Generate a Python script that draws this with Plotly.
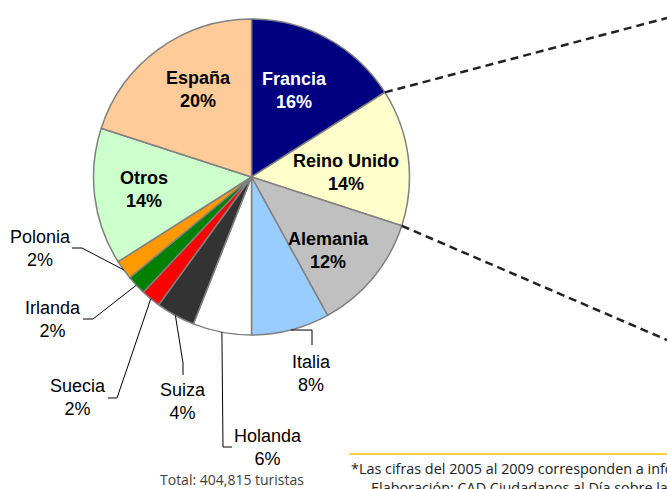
import math
import plotly.graph_objects as go

# ---- data ----
countries = ["Francia", "Reino Unido", "Alemania", "Italia", "Holanda", "Suiza",
             "Suecia", "Irlanda", "Polonia", "Otros", "España"]
shares = [16, 14, 12, 8, 6, 4, 2, 2, 2, 14, 20]
colors = ["#000080", "#FFFFCC", "#C0C0C0", "#99CCFF", "#FFFFFF", "#333333",
          "#FF0000", "#008000", "#FF9900", "#CCFFCC", "#FFCC99"]
total_text = "Total: 404,815 turistas"
note1 = "*Las cifras del 2005 al 2009 corresponden a información preliminar"
note2 = "Elaboración: CAD Ciudadanos al Día sobre la base de información oficial"

W, H = 667, 489
CX, CY, R = 251.5, 177.0, 158.0   # pie centre / radius in px (layout)

def px(x):
    return x / W

def py(y):
    return 1 - y / H

fig = go.Figure(go.Pie(
    labels=countries, values=shares, sort=False, direction="clockwise", rotation=0,
    marker=dict(colors=colors, line=dict(color="#808080", width=1.5)),
    textinfo="none", hoverinfo="label+percent", showlegend=False,
    domain=dict(x=[px(CX - R), px(CX + R)], y=[py(CY + R), py(CY - R)]),
))

tot = sum(shares)
def point_at(frac, r=R):
    a = 2 * math.pi * frac
    return CX + r * math.sin(a), CY - r * math.cos(a)

cum = []
c = 0
for v in shares:
    cum.append(c)
    c += v

shapes = []
annotations = []

# inside labels (bold)
inside = {
    "España": (199, 89.5, "#000000"),
    "Francia": (294, 90.5, "#FFFFFF"),
    "Reino Unido": (346, 172, "#000000"),
    "Alemania": (328, 251, "#000000"),
    "Otros": (144, 189, "#000000"),
}
# outside labels: (label centre x, y, end x, end y, elbow x, elbow y)
outside = {
    "Polonia": (40, 248, 72, 248, 82, 248),
    "Irlanda": (53, 319.5, 83, 319, 93, 319),
    "Suecia": (77.5, 397, 108, 398, 117, 398),
    "Suiza": (183, 401.5, 183, 375, 183, 363),
    "Holanda": (268, 447, 232, 447, 223, 447),
    "Italia": (311.5, 373, 312, 345, 312, None),
}

FS = 18
for i, name in enumerate(countries):
    pct = f"{round(100 * shares[i] / tot)}%"
    if name in inside:
        x, y, col = inside[name]
        annotations.append(dict(
            x=px(x), y=py(y), xref="paper", yref="paper", showarrow=False,
            text=f"<b>{name}</b><br><b>{pct}</b>", align="center",
            xanchor="center", yanchor="middle",
            font=dict(family="Liberation Sans, Arial", size=FS, color=col)))
    else:
        x, y, ex, ey, bx, by = outside[name]
        annotations.append(dict(
            x=px(x), y=py(y), xref="paper", yref="paper", showarrow=False,
            text=f"{name}<br>{pct}", align="center",
            xanchor="center", yanchor="middle",
            font=dict(family="Liberation Sans, Arial", size=FS, color="#000000")))
        ax, ay = point_at((cum[i] + shares[i] / 2) / tot)
        if by is None:
            by = ay
        path = f"M {px(ex)} {py(ey)} L {px(bx)} {py(by)} L {px(ax)} {py(ay)}"
        shapes.append(dict(type="path", xref="paper", yref="paper", path=path,
                           line=dict(color="#000000", width=1)))

# dashed lines bracketing Reino Unido
i_ru = countries.index("Reino Unido")
x1, y1 = point_at(cum[i_ru] / tot)
x2, y2 = point_at((cum[i_ru] + shares[i_ru]) / tot)
for (sx, sy), (tx, ty) in [((x1, y1), (667, 18)), ((x2, y2), (667, 340))]:
    shapes.append(dict(type="line", xref="paper", yref="paper",
                       x0=px(sx), y0=py(sy), x1=px(tx), y1=py(ty),
                       line=dict(color="#222222", width=2.5, dash="8px,5px")))

# yellow rule
shapes.append(dict(type="line", xref="paper", yref="paper",
                   x0=px(349), y0=py(454), x1=1, y1=py(454),
                   line=dict(color="#FFD23F", width=2)))

annotations.append(dict(x=px(232), y=py(479), xref="paper", yref="paper",
                        showarrow=False, text=total_text, xanchor="center", yanchor="middle",
                        font=dict(family="Open Sans", size=14, color="#404040")))
annotations.append(dict(x=px(349), y=py(468), xref="paper", yref="paper",
                        showarrow=False, text=note1, xanchor="left", yanchor="middle",
                        font=dict(family="Open Sans", size=14.4, color="#222222")))
annotations.append(dict(x=px(369), y=py(487), xref="paper", yref="paper",
                        showarrow=False, text=note2, xanchor="left", yanchor="middle",
                        font=dict(family="Open Sans", size=14.4, color="#222222")))

fig.update_layout(width=W, height=H, margin=dict(l=0, r=0, t=0, b=0),
                  paper_bgcolor="#FFFFFF", plot_bgcolor="#FFFFFF",
                  shapes=shapes, annotations=annotations)

fig.write_html("out.html", config={"displayModeBar": False},
               post_script="document.body.style.margin='0px';document.body.style.overflow='hidden';")
